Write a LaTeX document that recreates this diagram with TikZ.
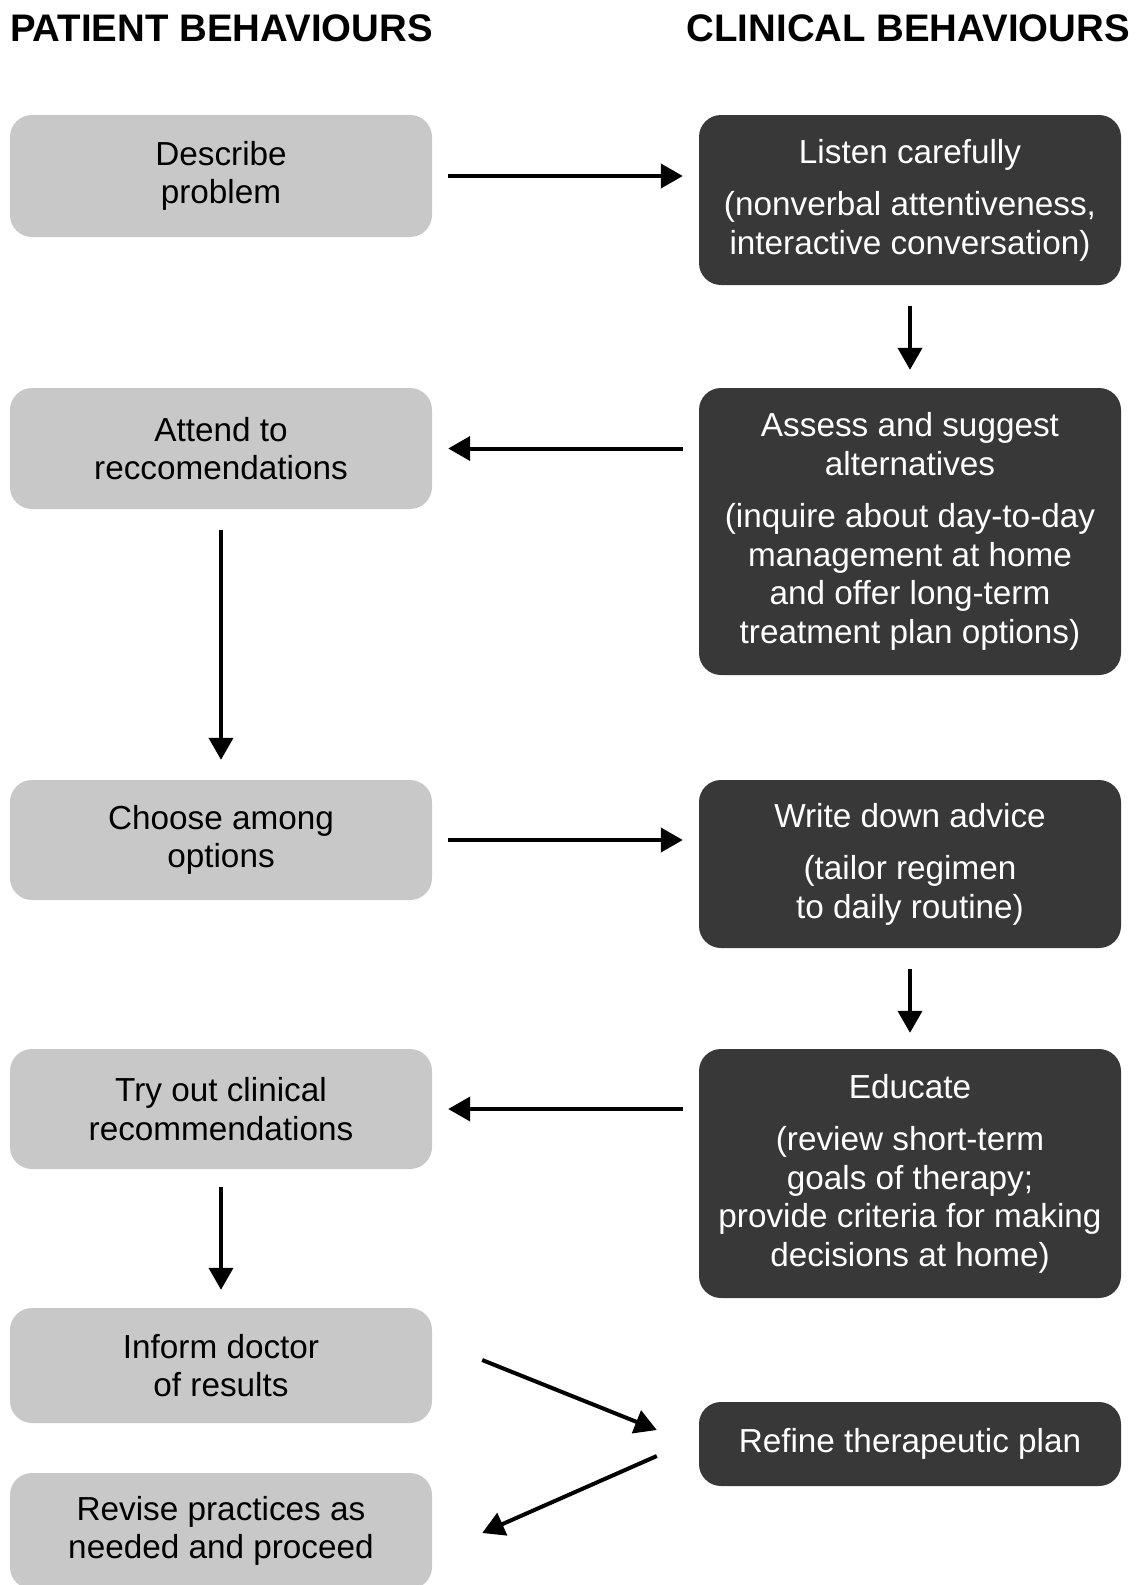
\documentclass[tikz,border=0pt]{standalone}
\usepackage{fontspec}
\setmainfont{Liberation Sans}
\usetikzlibrary{arrows.meta}
\definecolor{lightbox}{HTML}{C8C8C8}
\definecolor{darkbox}{HTML}{383838}
\begin{document}
\begin{tikzpicture}[x=1pt,y=-1pt,
  pbox/.style={rectangle, rounded corners=22pt, fill=lightbox, text=black,
    minimum width=422pt, inner sep=0pt, align=center,
    font=\fontsize{33.3}{38.5}\selectfont},
  cbox/.style={pbox, fill=darkbox, text=white},
  arr/.style={line width=4pt, -{Triangle[length=22pt,width=24pt]}},
  hdr/.style={font=\fontsize{38.4}{40}\selectfont\bfseries, inner sep=0pt}]
\useasboundingbox (0,0) rectangle (1136,1585);
\clip (0,0) rectangle (1136,1585);

\node[hdr, anchor=base west] (phead) at (10,41) {PATIENT BEHAVIOURS};
\node[hdr, anchor=base east] (chead) at (1130,41) {CLINICAL BEHAVIOURS};

\node[pbox, minimum height=122pt] (describe) at (221,176) {Describe\\problem};
\node[cbox, minimum height=170pt] (listen) at (910,200)
  {\vphantom{Ly}Listen carefully\\[14pt](nonverbal attentiveness,\\interactive conversation)};

\node[pbox, minimum height=121pt] (attend) at (221,448.5) {Attend to\\reccomendations};
\node[cbox, minimum height=287pt] (assess) at (910,531.5)
  {Assess and suggest\\alternatives\\[14pt](inquire about day-to-day\\management at home\\and offer long-term\\treatment plan options)};

\node[pbox, minimum height=120pt] (choose) at (221,840) {Choose among\\options};
\node[cbox, minimum height=168pt] (write) at (910,864)
  {Write down advice\\[14pt](tailor regimen\\to daily routine)};

\node[pbox, minimum height=120pt] (try) at (221,1109) {Try out clinical\\recommendations};
\node[cbox, minimum height=249pt] (educate) at (910,1173.5)
  {Educate\\[14pt](review short-term\\goals of therapy;\\provide criteria for making\\decisions at home)};

\node[pbox, minimum height=115pt] (inform) at (221,1365.5) {Inform doctor\\of results};
\node[cbox, minimum height=84pt] (refine) at (910,1444) {Refine therapeutic plan};
\node[pbox, minimum height=116pt] (revise) at (221,1531) {Revise practices as\\needed and proceed};

\draw[arr, shorten <=16pt, shorten >=16pt] (describe.east) -- (describe.east -| listen.west);
\draw[arr, shorten <=21pt, shorten >=18pt] (listen.south) -- (assess.north);
\draw[arr, shorten <=16pt, shorten >=16pt] (assess.west |- attend.east) -- (attend.east);
\draw[arr, shorten <=21pt, shorten >=20pt] (attend.south) -- (choose.north);
\draw[arr, shorten <=16pt, shorten >=16pt] (choose.east) -- (choose.east -| write.west);
\draw[arr, shorten <=21pt, shorten >=16pt] (write.south) -- (educate.north);
\draw[arr, shorten <=16pt, shorten >=16pt] (educate.west |- try.east) -- (try.east);
\draw[arr, shorten <=18pt, shorten >=18pt] (try.south) -- (inform.north);
\draw[arr] ([shift={(50,-5.5)}]inform.east) -- ([shift={(-42,-14)}]refine.west);
\draw[arr] ([shift={(-42,12)}]refine.west) -- ([shift={(50,2)}]revise.east);
\end{tikzpicture}
\end{document}
